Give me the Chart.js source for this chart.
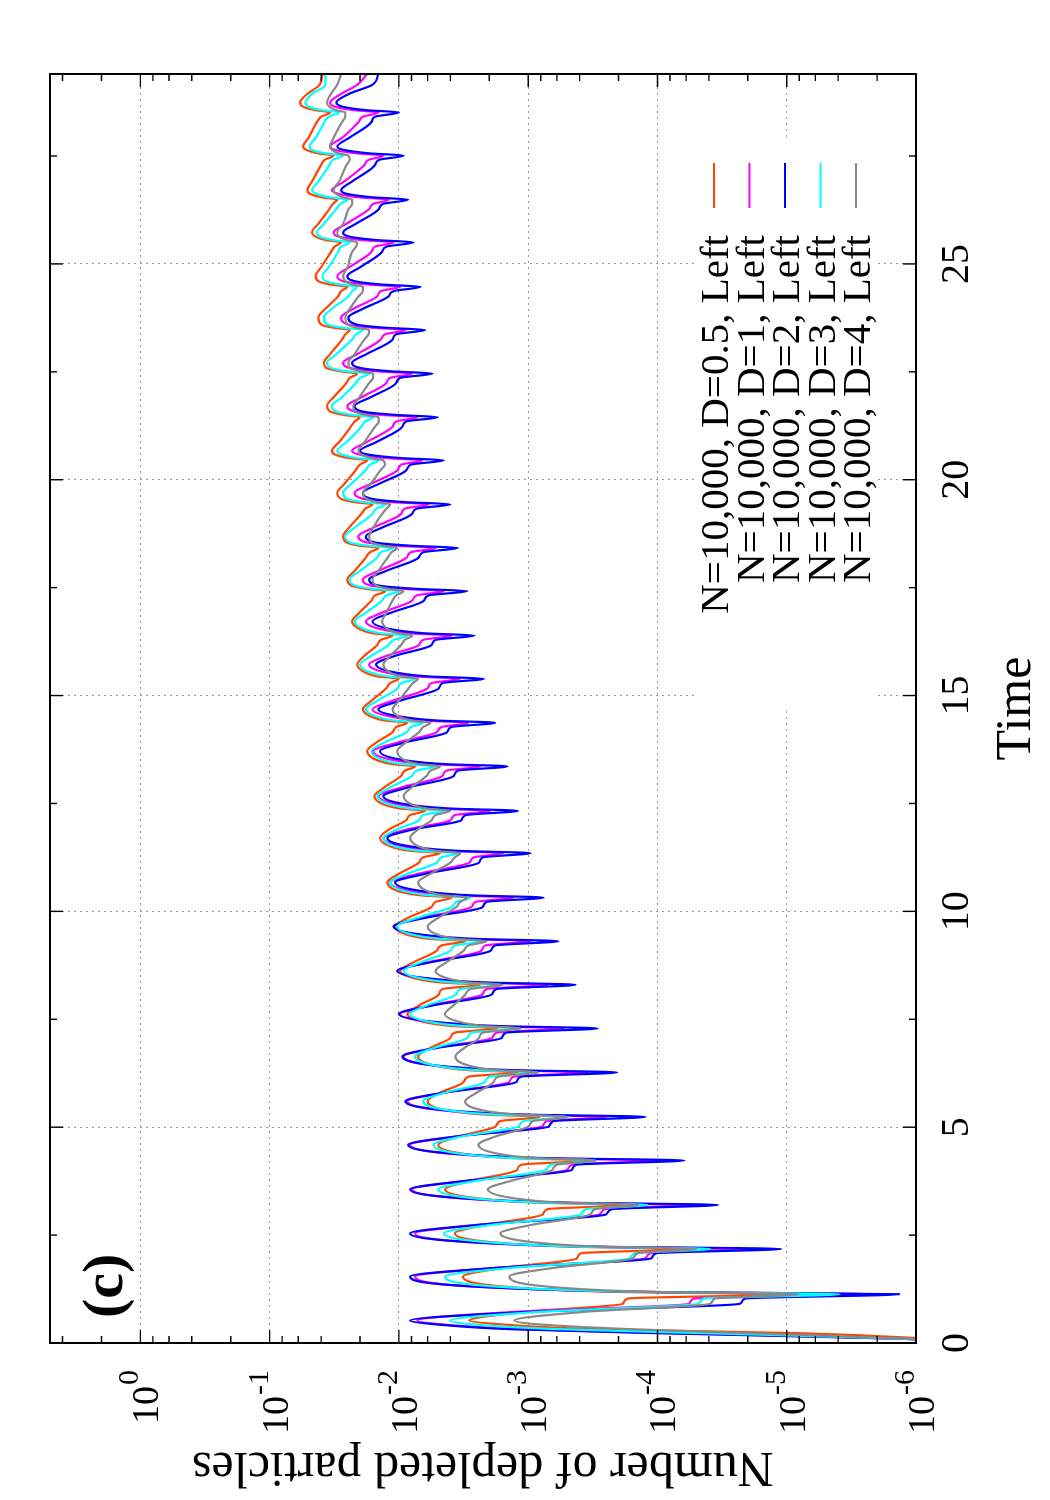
<!DOCTYPE html>
<html>
<head>
<meta charset="utf-8">
<title>Number of depleted particles</title>
<script src="https://cdn.jsdelivr.net/npm/chart.js@4.4.1/dist/chart.umd.min.js"></script>
<style>
  html, body { margin: 0; padding: 0; background: #fff; }
  body { width: 1050px; height: 1500px; overflow: hidden; position: relative; }
  /* the plot is drawn landscape and turned a quarter to the left */
  #wrap { position: absolute; left: 0; top: 0; width: 1500px; height: 1050px;
          transform-origin: 0 0; transform: translate(0, 1500px) rotate(-90deg); }
</style>
</head>
<body>
<div id="wrap"><canvas id="chart" width="1500" height="1050"></canvas></div>
<script>
// time samples shared by all five runs
const times = [
  0, 0.1, 0.23, 0.32, 0.43,
  0.52, 0.72, 0.91, 1.03,
  1.13, 1.18, 1.26, 1.54, 1.74, 1.96, 2.08,
  2.18, 2.23, 2.31, 2.54, 2.74, 2.98, 3.10,
  3.2, 3.25, 3.33, 3.56, 3.76, 4.01, 4.13,
  4.23, 4.28, 4.36, 4.59, 4.79, 5.02, 5.14,
  5.24, 5.29, 5.37, 5.6, 5.8, 6.05, 6.17,
  6.27, 6.32, 6.4, 6.64, 6.84, 7.07, 7.19,
  7.29, 7.34, 7.42, 7.62, 7.82, 8.08, 8.2,
  8.3, 8.35, 8.43, 8.62, 8.82, 9.09, 9.21,
  9.31, 9.36, 9.44, 9.65, 9.85, 10.1, 10.22,
  10.32, 10.37, 10.45, 10.67, 10.87, 11.13, 11.25,
  11.35, 11.4, 11.48, 11.7, 11.9, 12.11, 12.23,
  12.33, 12.38, 12.46, 12.67, 12.87, 13.14, 13.26,
  13.36, 13.41, 13.49, 13.71, 13.91, 14.15, 14.27,
  14.37, 14.42, 14.5, 14.68, 14.88, 15.17, 15.29,
  15.39, 15.44, 15.52, 15.72, 15.92, 16.17, 16.29,
  16.39, 16.44, 16.52, 16.72, 16.92, 17.2, 17.32,
  17.42, 17.47, 17.55, 17.69, 17.89, 18.2, 18.32,
  18.42, 18.47, 18.55, 18.69, 18.89, 19.21, 19.33,
  19.43, 19.48, 19.56, 19.7, 19.9, 20.23, 20.35,
  20.45, 20.5, 20.58, 20.67, 20.87, 21.23, 21.35,
  21.45, 21.5, 21.58, 21.71, 21.91, 22.24, 22.36,
  22.46, 22.51, 22.59, 22.71, 22.91, 23.25, 23.37,
  23.47, 23.52, 23.6, 23.76, 23.96, 24.25, 24.37,
  24.47, 24.52, 24.6, 24.72, 24.92, 25.28, 25.4,
  25.5, 25.55, 25.63, 25.73, 25.93, 26.27, 26.39,
  26.49, 26.54, 26.62, 26.71, 26.91, 27.29, 27.41,
  27.51, 27.56, 27.64, 27.72, 27.92, 28.29, 28.41,
  28.51, 28.56, 28.64, 28.74, 28.94, 29.15, 29.4
];

const seriesLabels = [
  'N=10,000, D=0.5, Left',
  'N=10,000, D=1, Left',
  'N=10,000, D=2, Left',
  'N=10,000, D=3, Left',
  'N=10,000, D=4, Left'
];
const seriesColors = ['#ff4500', '#ff00ff', '#0000ff', '#00ffff', '#888888'];

const d05 = [
  3e-7, 8e-7, 8.6e-6, 3.0e-4, 1.58e-3,
  2.85e-3, 1.07e-3, 1.85e-4, 1.7e-4,
  1.1e-5, 1.75e-4, 9.3e-4, 3.2e-3, 1.56e-3, 4.2e-4, 3.9e-4,
  6.4e-5, 4.5e-4, 1.53e-3, 3.7e-3, 2.1e-3, 7.7e-4, 7.1e-4,
  1.8e-4, 8.2e-4, 2.1e-3, 4.4e-3, 2.75e-3, 1.22e-3, 1.13e-3,
  3.5e-4, 1.25e-3, 2.75e-3, 4.96e-3, 3.4e-3, 1.78e-3, 1.65e-3,
  8.1e-4, 2.1e-3, 3.9e-3, 6.0e-3, 4.8e-3, 3.15e-3, 2.9e-3,
  1.2e-3, 2.85e-3, 4.8e-3, 7.1e-3, 5.7e-3, 4.0e-3, 3.7e-3,
  1.73e-3, 3.7e-3, 6.0e-3, 8.6e-3, 7.0e-3, 4.9e-3, 4.6e-3,
  2.35e-3, 4.6e-3, 7.1e-3, 9.8e-3, 7.7e-3, 5.1e-3, 4.7e-3,
  3.07e-3, 5.6e-3, 8.2e-3, 1.07e-2, 8.5e-3, 5.6e-3, 5.2e-3,
  3.9e-3, 6.7e-3, 9.6e-3, 1.23e-2, 1.0e-2, 7.0e-3, 6.5e-3,
  4.8e-3, 8.0e-3, 1.1e-2, 1.4e-2, 1.19e-2, 8.8e-3, 8.2e-3,
  6.25e-3, 9.6e-3, 1.27e-2, 1.55e-2, 1.3e-2, 9.6e-3, 9.0e-3,
  7.5e-3, 1.12e-2, 1.44e-2, 1.76e-2, 1.5e-2, 1.12e-2, 1.05e-2,
  8.6e-3, 1.27e-2, 1.6e-2, 1.9e-2, 1.63e-2, 1.25e-2, 1.17e-2,
  1.0e-2, 1.44e-2, 1.78e-2, 2.1e-2, 1.85e-2, 1.47e-2, 1.38e-2,
  1.12e-2, 1.58e-2, 1.95e-2, 2.3e-2, 2.02e-2, 1.63e-2, 1.53e-2,
  1.27e-2, 1.78e-2, 2.35e-2, 2.5e-2, 2.2e-2, 1.8e-2, 1.68e-2,
  1.44e-2, 2.0e-2, 2.55e-2, 2.7e-2, 2.43e-2, 1.95e-2, 1.82e-2,
  1.6e-2, 2.2e-2, 2.8e-2, 3.0e-2, 2.65e-2, 2.15e-2, 2.0e-2,
  1.76e-2, 2.4e-2, 3.1e-2, 3.3e-2, 2.9e-2, 2.35e-2, 2.2e-2,
  2.0e-2, 2.65e-2, 3.4e-2, 3.6e-2, 3.2e-2, 2.55e-2, 2.4e-2,
  2.1e-2, 2.8e-2, 3.65e-2, 3.8e-2, 3.4e-2, 2.75e-2, 2.6e-2,
  2.4e-2, 3.2e-2, 4.0e-2, 4.2e-2, 3.7e-2, 2.95e-2, 2.8e-2,
  2.5e-2, 3.35e-2, 4.2e-2, 4.4e-2, 4.0e-2, 3.35e-2, 3.15e-2,
  2.8e-2, 3.65e-2, 4.4e-2, 4.7e-2, 4.2e-2, 3.45e-2, 3.25e-2,
  3.0e-2, 3.9e-2, 4.85e-2, 5.1e-2, 4.7e-2, 4.0e-2, 3.75e-2,
  3.2e-2, 4.2e-2, 5.2e-2, 5.5e-2, 5.0e-2, 4.3e-2, 4.0e-2,
  3.4e-2, 4.4e-2, 5.5e-2, 5.8e-2, 5.1e-2, 4.1e-2, 3.9e-2
];

const d1 = [
  3e-7, 1.3e-6, 8.7e-5, 1.15e-3, 4.6e-3,
  7.2e-3, 1.3e-3, 5.7e-5, 5.2e-5,
  2.06e-6, 1.05e-4, 1.23e-3, 7.5e-3, 1.77e-3, 1.25e-4, 1.13e-4,
  2.0e-5, 3.45e-4, 2.05e-3, 7.5e-3, 2.35e-3, 2.8e-4, 2.55e-4,
  5.5e-5, 6.1e-4, 2.65e-3, 7.9e-3, 2.96e-3, 5.0e-4, 4.6e-4,
  1.08e-4, 8.6e-4, 3.2e-3, 8.2e-3, 3.5e-3, 7.8e-4, 7.2e-4,
  2.5e-4, 1.37e-3, 3.95e-3, 8.6e-3, 4.5e-3, 1.4e-3, 1.3e-3,
  3.5e-4, 1.67e-3, 4.45e-3, 9.2e-3, 5.2e-3, 1.9e-3, 1.76e-3,
  5.35e-4, 2.1e-3, 5.1e-3, 9.8e-3, 5.8e-3, 2.25e-3, 2.1e-3,
  7.1e-4, 2.6e-3, 5.7e-3, 1.03e-2, 6.0e-3, 2.3e-3, 2.15e-3,
  9.6e-4, 3.1e-3, 6.5e-3, 1.1e-2, 6.7e-3, 2.75e-3, 2.55e-3,
  1.3e-3, 3.7e-3, 7.2e-3, 1.17e-2, 7.1e-3, 2.85e-3, 2.65e-3,
  1.56e-3, 4.4e-3, 8.3e-3, 1.32e-2, 8.6e-3, 4.0e-3, 3.7e-3,
  1.96e-3, 5.1e-3, 9.2e-3, 1.44e-2, 9.6e-3, 4.6e-3, 4.3e-3,
  2.35e-3, 5.8e-3, 1.03e-2, 1.58e-2, 1.03e-2, 5.1e-3, 4.7e-3,
  2.9e-3, 6.6e-3, 1.1e-2, 1.6e-2, 1.12e-2, 6.0e-3, 5.6e-3,
  3.35e-3, 7.4e-3, 1.2e-2, 1.7e-2, 1.25e-2, 7.0e-3, 6.5e-3,
  3.9e-3, 8.2e-3, 1.3e-2, 1.8e-2, 1.35e-2, 7.9e-3, 7.3e-3,
  4.5e-3, 9.2e-3, 1.66e-2, 1.9e-2, 1.44e-2, 8.7e-3, 8.1e-3,
  5.2e-3, 1.03e-2, 1.78e-2, 2.06e-2, 1.58e-2, 9.6e-3, 9.0e-3,
  5.9e-3, 1.12e-2, 1.9e-2, 2.2e-2, 1.66e-2, 1.02e-2, 9.6e-3,
  6.6e-3, 1.23e-2, 2.0e-2, 2.3e-2, 1.78e-2, 1.12e-2, 1.05e-2,
  7.2e-3, 1.35e-2, 2.2e-2, 2.5e-2, 1.95e-2, 1.25e-2, 1.17e-2,
  7.9e-3, 1.44e-2, 2.4e-2, 2.7e-2, 2.1e-2, 1.38e-2, 1.28e-2,
  8.9e-3, 1.58e-2, 2.5e-2, 2.8e-2, 2.25e-2, 1.47e-2, 1.38e-2,
  9.8e-3, 1.7e-2, 2.7e-2, 3.0e-2, 2.43e-2, 1.63e-2, 1.53e-2,
  1.1e-2, 1.9e-2, 2.9e-2, 3.2e-2, 2.55e-2, 1.7e-2, 1.58e-2,
  1.2e-2, 2.0e-2, 2.9e-2, 3.3e-2, 2.65e-2, 1.85e-2, 1.72e-2,
  1.32e-2, 2.1e-2, 3.1e-2, 3.4e-2, 2.75e-2, 2.05e-2, 1.9e-2,
  1.44e-2, 2.2e-2, 3.1e-2, 3.4e-2, 2.8e-2, 2.1e-2, 1.76e-2
];

const d2 = [
  3e-7, 1.4e-6, 1.08e-4, 1.35e-3, 5.1e-3,
  8.2e-3, 1.0e-3, 2.3e-5, 2.1e-5,
  1.35e-6, 8.9e-5, 1.19e-3, 8.2e-3, 1.8e-3, 1.12e-4, 1.02e-4,
  1.1e-5, 2.6e-4, 1.9e-3, 8.2e-3, 2.4e-3, 2.5e-4, 2.25e-4,
  3.4e-5, 4.7e-4, 2.43e-3, 8.2e-3, 2.96e-3, 4.6e-4, 4.25e-4,
  6.2e-5, 6.5e-4, 2.85e-3, 8.5e-3, 3.5e-3, 6.9e-4, 6.4e-4,
  1.24e-4, 9.6e-4, 3.5e-3, 8.9e-3, 4.45e-3, 1.23e-3, 1.14e-3,
  2.05e-4, 1.28e-3, 4.1e-3, 9.4e-3, 5.0e-3, 1.6e-3, 1.48e-3,
  2.9e-4, 1.58e-3, 4.5e-3, 1.0e-2, 5.5e-3, 1.9e-3, 1.76e-3,
  4.3e-4, 2.0e-3, 5.2e-3, 1.03e-2, 5.7e-3, 1.95e-3, 1.8e-3,
  5.85e-4, 2.4e-3, 5.8e-3, 1.1e-2, 6.25e-3, 2.25e-3, 2.1e-3,
  7.6e-4, 2.7e-3, 5.9e-3, 1.07e-2, 6.25e-3, 2.4e-3, 2.25e-3,
  9.6e-4, 3.3e-3, 7.1e-3, 1.23e-2, 7.7e-3, 3.3e-3, 3.05e-3,
  1.2e-3, 3.8e-3, 7.9e-3, 1.32e-2, 8.5e-3, 3.75e-3, 3.5e-3,
  1.45e-3, 4.3e-3, 8.5e-3, 1.4e-2, 9.1e-3, 4.25e-3, 3.95e-3,
  1.8e-3, 4.9e-3, 9.1e-3, 1.44e-2, 9.8e-3, 4.9e-3, 4.6e-3,
  2.2e-3, 5.6e-3, 1.0e-2, 1.5e-2, 1.07e-2, 5.6e-3, 5.2e-3,
  2.6e-3, 6.1e-3, 1.07e-2, 1.6e-2, 1.15e-2, 6.4e-3, 5.9e-3,
  2.96e-3, 7.1e-3, 1.44e-2, 1.7e-2, 1.25e-2, 7.0e-3, 6.5e-3,
  3.5e-3, 7.9e-3, 1.55e-2, 1.8e-2, 1.35e-2, 7.9e-3, 7.3e-3,
  4.0e-3, 8.8e-3, 1.63e-2, 1.9e-2, 1.44e-2, 8.7e-3, 8.1e-3,
  4.5e-3, 9.4e-3, 1.7e-2, 2.0e-2, 1.5e-2, 9.4e-3, 8.8e-3,
  5.0e-3, 1.03e-2, 1.9e-2, 2.2e-2, 1.66e-2, 1.05e-2, 9.8e-3,
  5.5e-3, 1.12e-2, 2.0e-2, 2.3e-2, 1.78e-2, 1.12e-2, 1.05e-2,
  6.25e-3, 1.25e-2, 2.15e-2, 2.46e-2, 1.9e-2, 1.2e-2, 1.1e-2,
  6.8e-3, 1.32e-2, 2.2e-2, 2.5e-2, 2.0e-2, 1.35e-2, 1.25e-2,
  7.7e-3, 1.44e-2, 2.4e-2, 2.7e-2, 2.15e-2, 1.43e-2, 1.33e-2,
  8.5e-3, 1.55e-2, 2.5e-2, 2.8e-2, 2.3e-2, 1.53e-2, 1.43e-2,
  9.2e-3, 1.66e-2, 2.65e-2, 3.0e-2, 2.43e-2, 1.63e-2, 1.53e-2,
  1.0e-2, 1.76e-2, 2.7e-2, 3.05e-2, 2.43e-2, 1.6e-2, 1.44e-2
];

const d3 = [
  3e-7, 1.3e-6, 4.6e-5, 5.8e-4, 2.65e-3,
  4.0e-3, 8.4e-4, 4.8e-5, 4.4e-5,
  3.9e-6, 1.12e-4, 9.3e-4, 4.4e-3, 1.37e-3, 1.65e-4, 1.5e-4,
  3.9e-5, 3.8e-4, 1.58e-3, 4.5e-3, 1.9e-3, 3.9e-4, 3.6e-4,
  1.2e-4, 7.3e-4, 2.2e-3, 4.96e-3, 2.5e-3, 7.3e-4, 6.7e-4,
  3.0e-4, 1.19e-3, 2.85e-3, 5.4e-3, 3.2e-3, 1.18e-3, 1.09e-3,
  4.9e-4, 1.7e-3, 3.66e-3, 6.5e-3, 4.4e-3, 2.15e-3, 2.0e-3,
  8.4e-4, 2.4e-3, 4.6e-3, 7.5e-3, 5.3e-3, 2.95e-3, 2.75e-3,
  1.15e-3, 2.96e-3, 5.3e-3, 8.2e-3, 6.1e-3, 3.6e-3, 3.35e-3,
  1.58e-3, 3.66e-3, 6.25e-3, 9.2e-3, 6.8e-3, 4.0e-3, 3.7e-3,
  2.2e-3, 4.6e-3, 7.3e-3, 1.03e-2, 7.2e-3, 3.9e-3, 3.6e-3,
  2.8e-3, 5.5e-3, 8.5e-3, 1.17e-2, 8.6e-3, 5.1e-3, 4.7e-3,
  3.5e-3, 6.7e-3, 1.0e-2, 1.32e-2, 1.03e-2, 7.0e-3, 6.5e-3,
  4.4e-3, 7.9e-3, 1.12e-2, 1.47e-2, 1.17e-2, 7.9e-3, 7.3e-3,
  5.2e-3, 9.1e-3, 1.27e-2, 1.63e-2, 1.3e-2, 8.7e-3, 8.1e-3,
  6.5e-3, 1.07e-2, 1.44e-2, 1.8e-2, 1.47e-2, 1.02e-2, 9.6e-3,
  7.5e-3, 1.19e-2, 1.6e-2, 2.0e-2, 1.63e-2, 1.2e-2, 1.1e-2,
  8.6e-3, 1.35e-2, 1.78e-2, 2.2e-2, 1.8e-2, 1.35e-2, 1.25e-2,
  1.0e-2, 1.55e-2, 2.2e-2, 2.4e-2, 2.0e-2, 1.47e-2, 1.38e-2,
  1.12e-2, 1.7e-2, 2.4e-2, 2.6e-2, 2.2e-2, 1.6e-2, 1.5e-2,
  1.27e-2, 1.85e-2, 2.55e-2, 2.7e-2, 2.35e-2, 1.8e-2, 1.68e-2,
  1.44e-2, 2.06e-2, 2.75e-2, 3.0e-2, 2.55e-2, 1.95e-2, 1.82e-2,
  1.58e-2, 2.3e-2, 3.05e-2, 3.3e-2, 2.75e-2, 2.15e-2, 2.0e-2,
  1.7e-2, 2.5e-2, 3.35e-2, 3.6e-2, 3.05e-2, 2.3e-2, 2.15e-2,
  1.9e-2, 2.7e-2, 3.6e-2, 3.8e-2, 3.3e-2, 2.45e-2, 2.3e-2,
  2.1e-2, 2.8e-2, 3.7e-2, 3.9e-2, 3.5e-2, 2.95e-2, 2.8e-2,
  2.4e-2, 3.2e-2, 4.1e-2, 4.3e-2, 3.8e-2, 3.05e-2, 2.85e-2,
  2.5e-2, 3.4e-2, 4.3e-2, 4.7e-2, 4.2e-2, 3.45e-2, 3.25e-2,
  2.7e-2, 3.65e-2, 4.7e-2, 4.9e-2, 4.4e-2, 3.75e-2, 3.5e-2,
  2.9e-2, 3.9e-2, 5.0e-2, 5.3e-2, 4.7e-2, 3.7e-2, 3.7e-2
];

const d4 = [
  3e-7, 1.2e-6, 2.0e-5, 1.6e-4, 8.1e-4,
  1.28e-3, 3.75e-4, 3.9e-5, 3.6e-5,
  8.1e-6, 9.6e-5, 4.5e-4, 1.4e-3, 6.4e-4, 1.55e-4, 1.42e-4,
  5.0e-5, 2.65e-4, 7.6e-4, 1.64e-3, 9.3e-4, 3.3e-4, 3.05e-4,
  1.4e-4, 5.2e-4, 1.13e-3, 2.05e-3, 1.35e-3, 6.5e-4, 6.0e-4,
  3.0e-4, 8.2e-4, 1.53e-3, 2.43e-3, 1.77e-3, 9.9e-4, 9.2e-4,
  5.0e-4, 1.19e-3, 2.07e-3, 3.07e-3, 2.5e-3, 1.85e-3, 1.7e-3,
  8.4e-4, 1.7e-3, 2.65e-3, 3.66e-3, 3.1e-3, 2.4e-3, 2.25e-3,
  1.15e-3, 2.15e-3, 3.2e-3, 4.4e-3, 3.8e-3, 3.05e-3, 2.8e-3,
  1.58e-3, 2.8e-3, 4.0e-3, 5.2e-3, 4.3e-3, 3.15e-3, 2.9e-3,
  2.1e-3, 3.5e-3, 4.8e-3, 6.0e-3, 4.96e-3, 3.6e-3, 3.35e-3,
  2.96e-3, 4.5e-3, 5.8e-3, 7.1e-3, 5.7e-3, 4.0e-3, 3.7e-3,
  3.35e-3, 5.1e-3, 6.7e-3, 8.2e-3, 7.1e-3, 5.6e-3, 5.2e-3,
  4.0e-3, 6.0e-3, 7.7e-3, 9.2e-3, 8.0e-3, 6.1e-3, 5.7e-3,
  4.8e-3, 7.0e-3, 8.8e-3, 1.03e-2, 8.9e-3, 7.0e-3, 6.5e-3,
  5.7e-3, 7.9e-3, 9.8e-3, 1.12e-2, 1.0e-2, 8.4e-3, 7.8e-3,
  7.1e-3, 9.6e-3, 1.15e-2, 1.32e-2, 1.17e-2, 9.6e-3, 9.0e-3,
  7.9e-3, 1.0e-2, 1.19e-2, 1.35e-2, 1.25e-2, 1.12e-2, 1.05e-2,
  9.2e-3, 1.2e-2, 1.5e-2, 1.6e-2, 1.44e-2, 1.22e-2, 1.14e-2,
  1.03e-2, 1.32e-2, 1.63e-2, 1.7e-2, 1.58e-2, 1.35e-2, 1.25e-2,
  1.17e-2, 1.47e-2, 1.78e-2, 1.9e-2, 1.66e-2, 1.38e-2, 1.28e-2,
  1.32e-2, 1.63e-2, 1.95e-2, 2.06e-2, 1.85e-2, 1.53e-2, 1.43e-2,
  1.44e-2, 1.78e-2, 2.2e-2, 2.25e-2, 2.02e-2, 1.7e-2, 1.58e-2,
  1.58e-2, 1.95e-2, 2.4e-2, 2.46e-2, 2.2e-2, 1.85e-2, 1.72e-2,
  1.7e-2, 2.1e-2, 2.5e-2, 2.6e-2, 2.4e-2, 2.05e-2, 1.9e-2,
  1.9e-2, 2.25e-2, 2.6e-2, 2.7e-2, 2.5e-2, 2.3e-2, 2.15e-2,
  2.1e-2, 2.5e-2, 2.9e-2, 3.0e-2, 2.7e-2, 2.45e-2, 2.3e-2,
  2.3e-2, 2.7e-2, 3.05e-2, 3.2e-2, 2.9e-2, 2.55e-2, 2.4e-2,
  2.46e-2, 2.9e-2, 3.3e-2, 3.4e-2, 3.2e-2, 2.75e-2, 2.6e-2,
  2.6e-2, 3.05e-2, 3.45e-2, 3.6e-2, 3.35e-2, 3.0e-2, 2.8e-2
];

const timeTicks = [0, 5, 10, 15, 20, 25];
const timeMinorTicks = [2.5, 7.5, 12.5, 17.5, 22.5, 27.5];
const decadeTicks = [1e-6, 1e-5, 1e-4, 1e-3, 1e-2, 1e-1, 1];
const minorSteps = [2, 4, 6, 8];

const SERIF = "'Liberation Serif', 'Times New Roman', serif";
const seriesData = [d05, d1, d2, d3, d4];

// gnuplot-like frame: inward ticks on all sides, superscript labels, key and panel tag
const gnuplotFrame = {
  id: 'gnuplotFrame',
  beforeDatasetsDraw(chart) {
    const { ctx, chartArea: a } = chart;
    // the key has an opaque background that hides the grid
    ctx.save();
    ctx.fillStyle = '#ffffff';
    ctx.fillRect(a.left + 633, a.bottom - 221, 572, 183);
    ctx.restore();
  },
  afterDraw(chart) {
    const { ctx, chartArea: a, scales: { x, y } } = chart;
    ctx.save();
    ctx.strokeStyle = '#000';
    ctx.lineWidth = 1.4;
    ctx.beginPath();
    const xTick = (v, len) => {
      const px = x.getPixelForValue(v);
      ctx.moveTo(px, a.bottom); ctx.lineTo(px, a.bottom - len);
      ctx.moveTo(px, a.top); ctx.lineTo(px, a.top + len);
    };
    const yTick = (v, len) => {
      const py = y.getPixelForValue(v);
      if (py < a.top - 0.5 || py > a.bottom + 0.5) return;
      ctx.moveTo(a.left, py); ctx.lineTo(a.left + len, py);
      ctx.moveTo(a.right, py); ctx.lineTo(a.right - len, py);
    };
    timeTicks.forEach(t => xTick(t, 13));
    timeMinorTicks.forEach(t => xTick(t, 7));
    decadeTicks.forEach(v => {
      yTick(v, 13);
      minorSteps.forEach(m => yTick(v * m, 7));
    });
    ctx.stroke();

    ctx.lineWidth = 2;
    ctx.strokeRect(a.left, a.top, a.right - a.left, a.bottom - a.top);

    // decade labels 10^n
    ctx.fillStyle = '#000';
    ctx.textAlign = 'right';
    ctx.textBaseline = 'alphabetic';
    const labelRight = a.left - 27;
    decadeTicks.forEach(v => {
      const py = y.getPixelForValue(v);
      const exp = String(Math.round(Math.log10(v)));
      ctx.font = `30px ${SERIF}`;
      const expW = ctx.measureText(exp).width;
      ctx.fillText(exp, labelRight, py - 2);
      ctx.font = `38px ${SERIF}`;
      ctx.fillText('10', labelRight - expW - 1, py + 18);
    });

    // panel tag
    ctx.textAlign = 'left';
    ctx.font = `bold 58px ${SERIF}`;
    ctx.fillText('(c)', a.left + 25, a.top + 72);

    // key: text right-justified, sample to its right
    ctx.font = `41px ${SERIF}`;
    ctx.textAlign = 'right';
    chart.data.datasets.forEach((ds, i) => {
      const rowY = a.bottom - 202 + i * 35.5;
      ctx.fillStyle = '#000';
      ctx.fillText(ds.label, a.right - 161, rowY + 14);
      ctx.strokeStyle = ds.borderColor;
      ctx.lineWidth = 2;
      ctx.beginPath();
      ctx.moveTo(a.right - 134, rowY);
      ctx.lineTo(a.right - 89, rowY);
      ctx.stroke();
    });
    ctx.restore();
  }
};

new Chart(document.getElementById('chart'), {
  type: 'line',
  data: {
    labels: times,
    datasets: seriesData.map((vals, i) => ({
      label: seriesLabels[i],
      data: vals,
      borderColor: seriesColors[i],
      backgroundColor: seriesColors[i],
      borderWidth: 2.2,
      pointRadius: 0,
      fill: false,
      cubicInterpolationMode: 'monotone',
      order: seriesData.length - i
    }))
  },
  options: {
    responsive: false,
    animation: false,
    events: [],
    layout: { padding: { top: 50, right: 74, left: 0, bottom: 0 } },
    plugins: { legend: { display: false }, tooltip: { enabled: false } },
    scales: {
      x: {
        type: 'linear',
        min: 0,
        max: 29.4,
        afterBuildTicks: s => { s.ticks = timeTicks.map(v => ({ value: v })); },
        afterFit: s => { s.height = 134; },
        ticks: { color: '#000', padding: 17, maxRotation: 0, font: { family: SERIF, size: 40 } },
        grid: { color: '#9a9a9a', lineWidth: 1, drawTicks: false },
        border: { display: false, dash: [2, 4] },
        title: {
          display: true, text: 'Time', color: '#000',
          font: { family: SERIF, size: 50 }, padding: { top: 0, bottom: 3 }
        }
      },
      y: {
        type: 'logarithmic',
        min: 1e-6,
        max: 5,
        afterBuildTicks: s => { s.ticks = decadeTicks.map(v => ({ value: v })); },
        afterFit: s => { s.width = 157; },
        ticks: { display: false },
        grid: { color: '#9a9a9a', lineWidth: 1, drawTicks: false },
        border: { display: false, dash: [2, 4] },
        title: {
          display: true, text: 'Number of depleted particles', color: '#000',
          font: { family: SERIF, size: 50 }, padding: { top: 4, bottom: 0 }
        }
      }
    }
  },
  plugins: [gnuplotFrame]
});
</script>
</body>
</html>
